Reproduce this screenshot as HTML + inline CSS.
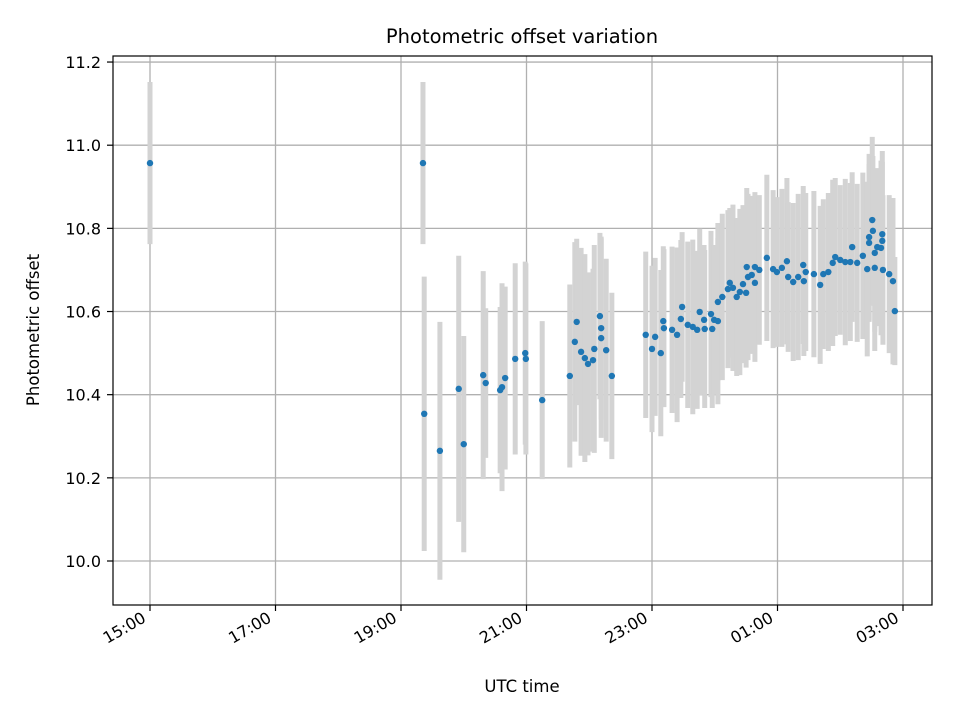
<!DOCTYPE html>
<html><head><meta charset="utf-8"><style>
body{margin:0;background:#fff;}
svg text{font-family:"DejaVu Sans","Liberation Sans",sans-serif;fill:#000;}
</style></head><body>
<svg id="chart" width="960" height="720" viewBox="0 0 960 720" xmlns="http://www.w3.org/2000/svg">
<rect width="960" height="720" fill="#fff"/>
<g id="grid"></g>
<g id="errs"></g>
<g id="pts"></g>
<rect x="113" y="56" width="819" height="549" fill="none" stroke="#000" stroke-width="1.2"/>
<g id="ticks"></g>
<text x="522" y="43" font-size="19.5" text-anchor="middle">Photometric offset variation</text>
<text x="522" y="692" font-size="16.5" text-anchor="middle">UTC time</text>
<text transform="translate(39,330) rotate(-90)" font-size="16.5" text-anchor="middle">Photometric offset</text>
</svg>
<script>
const times=[15.00,19.35,19.37,19.62,19.92,20.00,20.31,20.35,20.58,20.61,20.66,20.82,20.98,20.99,21.25,
21.69,21.77,21.80,21.87,21.93,21.98,22.06,22.08,22.17,22.19,22.19,22.27,22.36,
22.90,23.00,23.05,23.14,23.18,23.19,23.32,23.40,23.46,23.48,23.57,23.65,23.72,23.76,23.83,23.84,23.94,23.96,23.99,24.05,24.05,24.12,24.21,24.24,24.29,24.35,24.40,24.45,24.50,24.51,24.53,24.59,24.64,24.64,24.71,24.83,24.93,24.99,25.07,25.15,25.17,25.25,25.33,25.41,25.42,25.45,25.58,25.68,25.73,25.81,25.88,25.92,26.00,26.08,26.16,26.19,26.27,26.36,26.43,26.46,26.46,26.51,26.52,26.55,26.55,26.59,26.65,26.67,26.67,26.68,26.78,26.84,26.87];
const values=[10.957,10.957,10.354,10.265,10.414,10.281,10.447,10.428,10.411,10.418,10.44,10.486,10.5,10.486,10.387,
10.445,10.527,10.575,10.503,10.488,10.474,10.483,10.51,10.589,10.56,10.536,10.507,10.445,
10.544,10.51,10.539,10.5,10.577,10.56,10.556,10.544,10.582,10.611,10.568,10.563,10.556,10.599,10.58,10.558,10.594,10.558,10.58,10.577,10.623,10.635,10.654,10.669,10.657,10.635,10.647,10.666,10.645,10.707,10.683,10.688,10.707,10.669,10.7,10.729,10.702,10.695,10.705,10.721,10.683,10.671,10.683,10.712,10.673,10.695,10.69,10.664,10.69,10.695,10.717,10.731,10.724,10.719,10.719,10.755,10.717,10.734,10.702,10.779,10.765,10.82,10.794,10.741,10.705,10.755,10.753,10.786,10.77,10.7,10.69,10.673,10.601];
const errors=[0.195,0.195,0.33,0.31,0.32,0.26,0.25,0.18,0.2,0.25,0.22,0.23,0.22,0.23,0.19,
0.22,0.24,0.2,0.25,0.25,0.22,0.22,0.25,0.2,0.22,0.24,0.22,0.2,0.2,
0.2,0.19,0.2,0.18,0.19,0.2,0.21,0.19,0.18,0.2,0.21,0.19,0.2,0.18,0.19,0.2,0.19,0.18,0.2,0.19,0.2,0.19,0.18,0.2,0.19,0.2,0.19,0.18,0.19,0.2,0.19,0.18,0.19,0.18,0.2,0.19,0.18,0.19,0.2,0.18,0.19,0.2,0.19,0.18,0.19,0.2,0.19,0.18,0.19,0.2,0.19,0.18,0.2,0.19,0.18,0.19,0.2,0.21,0.2,0.19,0.2,0.18,0.19,0.2,0.19,0.21,0.2,0.19,0.18,0.19,0.2,0.13];
const xTicks=[15,17,19,21,23,25,27];
const xTickLabels=["15:00","17:00","19:00","21:00","23:00","01:00","03:00"];
const yTicks=[10.0,10.2,10.4,10.6,10.8,11.0,11.2];
const yTickLabels=["10.0","10.2","10.4","10.6","10.8","11.0","11.2"];
const X=h=>150+(h-15)*62.75;
const Y=v=>561-(v-10)*415.8;
const NS="http://www.w3.org/2000/svg";
function mk(tag,attrs,parent){const e=document.createElementNS(NS,tag);for(const k in attrs)e.setAttribute(k,attrs[k]);parent.appendChild(e);return e;}
const grid=document.getElementById('grid'),ticks=document.getElementById('ticks');
xTicks.forEach((t,i)=>{
  const x=X(t);
  const g=mk('line',{x1:x,x2:x,y1:56,y2:605,stroke:'#b0b0b0','stroke-width':1.3},grid);
  
  
  const tk=mk('line',{x1:x,x2:x,y1:605,y2:611,stroke:'#000','stroke-width':1.2},ticks);
  
  
  const tx=mk('text',{transform:`translate(${x-3},${621}) rotate(-30)`,'font-size':16,'text-anchor':'end'},ticks);
  tx.textContent=xTickLabels[i];
  
  
});
yTicks.forEach((t,i)=>{
  const y=Y(t);
  const g=mk('line',{x1:113,x2:932,y1:y,y2:y,stroke:'#b0b0b0','stroke-width':1.3},grid);
  
  
  const tk=mk('line',{x1:107,x2:113,y1:y,y2:y,stroke:'#000','stroke-width':1.2},ticks);
  
  
  const tx=mk('text',{x:101,y:y+6,'font-size':16,'text-anchor':'end'},ticks);
  tx.textContent=yTickLabels[i];
  
  
});
const errs=document.getElementById('errs'),pts=document.getElementById('pts');
times.forEach((t,i)=>{
  const x=X(t),v=values[i],e=errors[i];
  const l=mk('line',{x1:x,x2:x,y1:Y(v+e),y2:Y(v-e),stroke:'#d3d3d3','stroke-width':5},errs);
  
  
});
times.forEach((t,i)=>{
  const c=mk('circle',{cx:X(t),cy:Y(values[i]),r:3.2,fill:'#1f77b4'},pts);
  
  
});
</script>
</body></html>
